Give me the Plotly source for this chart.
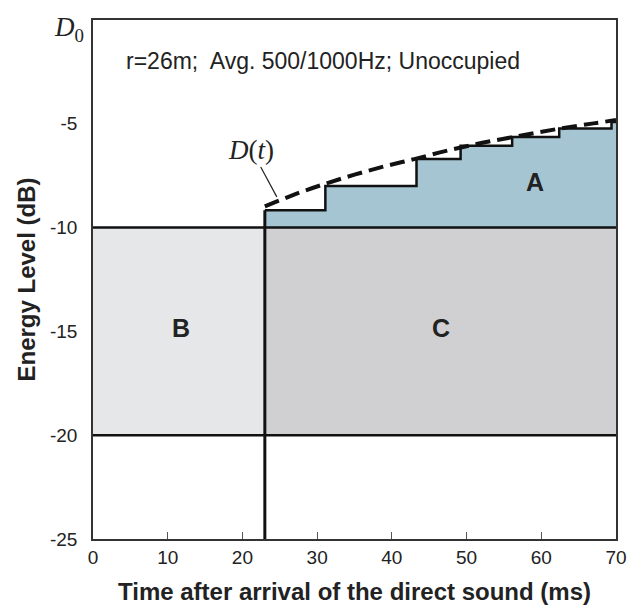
import plotly.graph_objects as go

# ---- data ----
x_ticks = [0, 10, 20, 30, 40, 50, 60, 70]
y_ticks = [-25, -20, -15, -10, -5]
y_tick_labels = ["-25", "-20", "-15", "-10", "-5"]

direct_end_ms = 23          # end of region B / start of A, C
level_upper = -10           # boundary between A and B/C
level_lower = -20           # lower boundary of B/C
t_max = 70

# step (integrated energy) profile
step_t = [23, 31.1, 43.3, 49.2, 56.1, 62.4, 69.4, 70]
step_db = [-9.17, -8.0, -6.7, -6.06, -5.63, -5.23, -4.91, -4.91]

# D(t) curve (dashed)
curve_t = [23, 27, 31, 35, 39, 43, 47, 51, 55, 59, 63, 67, 70]
curve_db = [-8.98, -8.4, -7.9, -7.45, -7.05, -6.7, -6.33, -6.0, -5.72, -5.45, -5.2, -4.98, -4.82]

region_labels = ["A", "B", "C"]
region_x = [59.2, 11.8, 46.6]
region_y = [-7.8, -14.85, -14.85]

fig = go.Figure()

# Region B and C rectangles
fig.add_shape(type="rect", x0=0, x1=direct_end_ms, y0=level_lower, y1=level_upper,
              fillcolor="#e6e7e9", line=dict(width=0), layer="below")
fig.add_shape(type="rect", x0=direct_end_ms, x1=t_max, y0=level_lower, y1=level_upper,
              fillcolor="#d0d0d2", line=dict(width=0), layer="below")

# Region A fill (between -10 and step profile)
fig.add_trace(go.Scatter(x=[step_t[0], step_t[-1]], y=[level_upper, level_upper],
                         mode="lines", line=dict(width=0, color="rgba(0,0,0,0)"),
                         hoverinfo="skip", showlegend=False))
fig.add_trace(go.Scatter(x=step_t, y=step_db, mode="lines", line_shape="hv",
                         fill="tonexty", fillcolor="#a5c5d2",
                         line=dict(color="#111111", width=2.5), showlegend=False))

# D(t) dashed curve
fig.add_trace(go.Scatter(x=curve_t, y=curve_db, mode="lines", line_shape="spline",
                         line=dict(color="#111111", width=4, dash="15px,7px"),
                         showlegend=False))

# boundary lines
fig.add_shape(type="line", x0=0, x1=t_max, y0=level_upper, y1=level_upper,
              line=dict(color="#111111", width=2.5))
fig.add_shape(type="line", x0=0, x1=t_max, y0=level_lower, y1=level_lower,
              line=dict(color="#111111", width=2.5))
fig.add_shape(type="line", x0=direct_end_ms, x1=direct_end_ms, y0=-25, y1=step_db[0],
              line=dict(color="#111111", width=3))

# leader line for D(t)
fig.add_shape(type="line", x0=22.45, x1=24.6, y0=-7.08, y1=-8.52,
              line=dict(color="#222222", width=1.2))

# region labels
for lab, xx, yy in zip(region_labels, region_x, region_y):
    fig.add_annotation(x=xx, y=yy, text=f"<b>{lab}</b>", showarrow=False,
                       font=dict(family="Liberation Sans, Arial", size=25, color="#222222"))

# D(t) label
fig.add_annotation(x=21.2, y=-6.27, text="<i>D</i>(<i>t</i>)", showarrow=False,
                   font=dict(family="Liberation Serif, Times New Roman", size=27, color="#222222"))

# D0 label at top-left (tick position 0 dB)
fig.add_annotation(xref="paper", x=-0.014, y=-0.45, text="<i>D</i><sub>0</sub>",
                   showarrow=False, xanchor="right",
                   font=dict(family="Liberation Serif, Times New Roman", size=27, color="#222222"))

# info text
fig.add_annotation(x=4.2, y=-1.99, text="r=26m;  Avg. 500/1000Hz; Unoccupied",
                   showarrow=False, xanchor="left",
                   font=dict(family="Liberation Sans, Arial", size=23, color="#222222"))

fig.update_layout(
    width=639, height=613,
    margin=dict(l=93, r=12, t=20, b=70),
    paper_bgcolor="white", plot_bgcolor="white",
    showlegend=False,
    font=dict(family="Liberation Sans, Arial", color="#222222"),
)
fig.update_xaxes(range=[0, t_max], tickvals=x_ticks, ticks="inside", ticklen=7,
                 tickwidth=1, tickcolor="#555555",
                 showline=True, mirror=True, linecolor="#333333", linewidth=1.5,
                 showgrid=False, zeroline=False, tickfont=dict(size=19),
                 title=dict(text="<b>Time after arrival of the direct sound (ms)</b>",
                            font=dict(size=24), standoff=17))
fig.update_yaxes(range=[-25, 0], tickvals=y_ticks, ticktext=y_tick_labels, ticks="",
                 showline=True, mirror=True, linecolor="#333333", linewidth=1.5,
                 showgrid=False, zeroline=False, tickfont=dict(size=19),
                 ticklabelstandoff=10,
                 title=dict(text="<b>Energy Level (dB)</b>", font=dict(size=24), standoff=8))

fig.write_html("out.html",
               config={"displayModeBar": False},
               post_script="document.body.style.margin='0';document.body.style.overflow='hidden';")
